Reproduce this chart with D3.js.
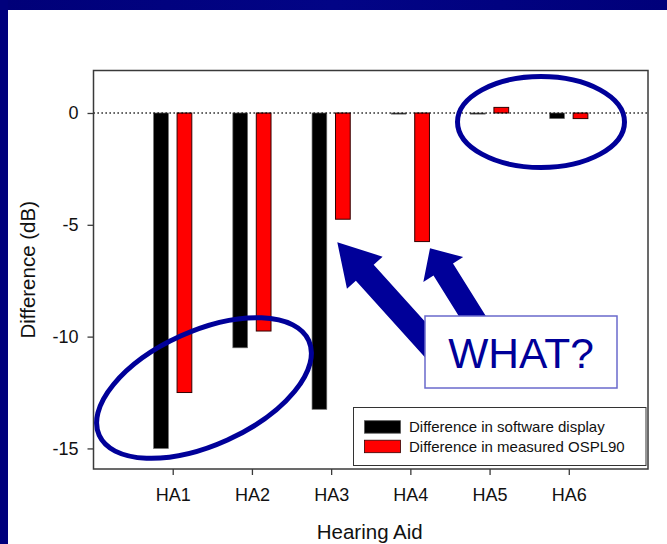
<!DOCTYPE html>
<html>
<head>
<meta charset="utf-8">
<script src="https://cdn.jsdelivr.net/npm/d3@7"></script>
<style>
  html, body { margin: 0; padding: 0; background: #ffffff; overflow: hidden; width: 667px; height: 544px; }
  svg { display: block; font-family: "Liberation Sans", Arial, sans-serif; }
</style>
</head>
<body>
<svg id="chart" width="667" height="544" viewBox="0 0 667 544"></svg>
<script>
// ---- data ----
const categories = ["HA1", "HA2", "HA3", "HA4", "HA5", "HA6"];
const softwareDisplay = [-15, -10.5, -13.25, -0.05, -0.05, -0.25];
const measuredOSPL90 = [-12.5, -9.75, -4.75, -5.75, 0.25, -0.25];
const yTickValues = [0, -5, -10, -15];
const seriesNames = ["Difference in software display", "Difference in measured OSPL90"];
const seriesColors = ["#000000", "#ff0000"];
const xTitle = "Hearing Aid";
const yTitle = "Difference (dB)";
const calloutText = "WHAT?";

// ---- layout ----
const W = 667, H = 544;
const plot = { left: 93.5, right: 648, top: 70.5, bottom: 469 };
const svg = d3.select("#chart");

// background: white slide with navy band on top and left
const defs = svg.append("defs");
const grad = defs.append("linearGradient").attr("id", "bg").attr("gradientUnits", "userSpaceOnUse")
  .attr("x1", 0).attr("y1", 0).attr("x2", W).attr("y2", 0);
grad.append("stop").attr("offset", "0").attr("stop-color", "#000078");
grad.append("stop").attr("offset", "0.5").attr("stop-color", "#020486");
grad.append("stop").attr("offset", "1").attr("stop-color", "#00007a");
svg.append("rect").attr("x", 0).attr("y", 0).attr("width", W).attr("height", H).attr("fill", "#ffffff");
svg.append("rect").attr("x", 0).attr("y", 0).attr("width", W).attr("height", 10).attr("fill", "url(#bg)");
svg.append("rect").attr("x", 0).attr("y", 0).attr("width", 8).attr("height", H).attr("fill", "#00007c");

// scales
const x = d3.scaleLinear().domain([0, categories.length + 1]).range([plot.left, plot.right]);
const y = d3.scaleLinear().domain([-15.92, 1.9]).range([plot.bottom, plot.top]);
const unit = x(1) - x(0);
const barW = unit * 0.186;
const offset = unit * 0.148;

const g = svg.append("g");

// bars
const series = [softwareDisplay, measuredOSPL90];
series.forEach((vals, si) => {
  g.append("g").selectAll("rect").data(vals).join("rect")
    .attr("x", (d, i) => x(i + 1) + (si === 0 ? -offset : offset) - barW / 2)
    .attr("y", d => y(Math.max(0, d)))
    .attr("width", barW)
    .attr("height", d => Math.abs(y(d) - y(0)))
    .attr("fill", seriesColors[si])
    .attr("stroke", si === 0 ? "#6b6b6b" : "#330000")
    .attr("stroke-width", si === 0 ? 0.7 : 1);
});

// zero reference line (dotted)
g.append("line")
  .attr("x1", plot.left).attr("x2", plot.right)
  .attr("y1", y(0)).attr("y2", y(0))
  .attr("stroke", "#000").attr("stroke-width", 1.3)
  .attr("stroke-dasharray", "1.3,2.7");

// frame
g.append("rect")
  .attr("x", plot.left).attr("y", plot.top)
  .attr("width", plot.right - plot.left).attr("height", plot.bottom - plot.top)
  .attr("fill", "none").attr("stroke", "#3a3a3a").attr("stroke-width", 1.5);

// y axis
const yAxis = g.append("g").attr("transform", `translate(${plot.left},0)`)
  .call(d3.axisLeft(y).tickValues(yTickValues).tickSize(6).tickPadding(9).tickFormat(d => String(d)));
yAxis.select(".domain").remove();
yAxis.selectAll("line").attr("stroke", "#3a3a3a").attr("stroke-width", 1.3);
yAxis.selectAll("text").attr("font-size", 18).attr("fill", "#111").attr("font-family", "Liberation Sans, Arial, sans-serif");

// x axis
const xAxis = g.append("g").attr("transform", `translate(0,${plot.bottom})`)
  .call(d3.axisBottom(x).tickValues(d3.range(1, categories.length + 1)).tickSize(6).tickPadding(13).tickFormat(d => categories[d - 1]));
xAxis.select(".domain").remove();
xAxis.selectAll("line").attr("stroke", "#3a3a3a").attr("stroke-width", 1.3);
xAxis.selectAll("text").attr("font-size", 18).attr("fill", "#111").attr("font-family", "Liberation Sans, Arial, sans-serif");

// axis titles
svg.append("text").attr("x", (plot.left + plot.right) / 2 - 1).attr("y", 539)
  .attr("text-anchor", "middle").attr("font-size", 20.5).attr("fill", "#111").text(xTitle);
svg.append("text").attr("transform", `translate(35,${(plot.top + plot.bottom) / 2}) rotate(-90)`)
  .attr("text-anchor", "middle").attr("font-size", 20.5).attr("fill", "#111").text(yTitle);

// legend
const leg = svg.append("g");
leg.append("rect").attr("x", 353.5).attr("y", 407.5).attr("width", 292.5).attr("height", 58)
  .attr("fill", "#fff").attr("stroke", "#333").attr("stroke-width", 1);
seriesNames.forEach((name, i) => {
  leg.append("rect").attr("x", 364.5).attr("y", 420.7 + i * 19.5).attr("width", 36).attr("height", 12.5)
    .attr("fill", seriesColors[i]).attr("stroke", i === 0 ? "#555" : "#330000").attr("stroke-width", 0.8);
  leg.append("text").attr("x", 409).attr("y", 432.3 + i * 19.5).attr("font-size", 15).attr("fill", "#111").text(name);
});

// ---- annotations ----
const annoColor = "#000099";
// ellipses
svg.append("ellipse").attr("cx", 204).attr("cy", 388).attr("rx", 115).attr("ry", 57)
  .attr("transform", "rotate(-24.3,204,388)")
  .attr("fill", "none").attr("stroke", annoColor).attr("stroke-width", 5);
svg.append("ellipse").attr("cx", 541).attr("cy", 122).attr("rx", 83.5).attr("ry", 45.5)
  .attr("fill", "none").attr("stroke", annoColor).attr("stroke-width", 5);

// block arrows
function blockArrow(tip, dir, len, shaftW, headW, headL) {
  const n = Math.hypot(dir[0], dir[1]);
  const u = [dir[0] / n, dir[1] / n];
  const p = [u[1], -u[0]];
  const pt = (a, b) => [tip[0] + u[0] * a + p[0] * b, tip[1] + u[1] * a + p[1] * b];
  return [pt(0, 0), pt(headL, headW / 2), pt(headL, shaftW / 2), pt(len, shaftW / 2),
          pt(len, -shaftW / 2), pt(headL, -shaftW / 2), pt(headL, -headW / 2)];
}
const arrows = [
  blockArrow([337.3, 242.3], [0.67, 0.742], 175, 24, 48, 41),
  blockArrow([430, 248.3], [0.53, 0.848], 120, 23, 47, 25)
];
svg.append("g").selectAll("polygon").data(arrows).join("polygon")
  .attr("points", d => d.map(q => q.join(",")).join(" "))
  .attr("fill", annoColor);

// callout box
svg.append("rect").attr("x", 425).attr("y", 316).attr("width", 192).attr("height", 72)
  .attr("fill", "#fff").attr("stroke", "#6a6acc").attr("stroke-width", 1.5);
svg.append("text").attr("x", 521).attr("y", 368.3).attr("text-anchor", "middle")
  .attr("font-size", 42.5).attr("fill", annoColor).text(calloutText);
</script>
</body>
</html>
